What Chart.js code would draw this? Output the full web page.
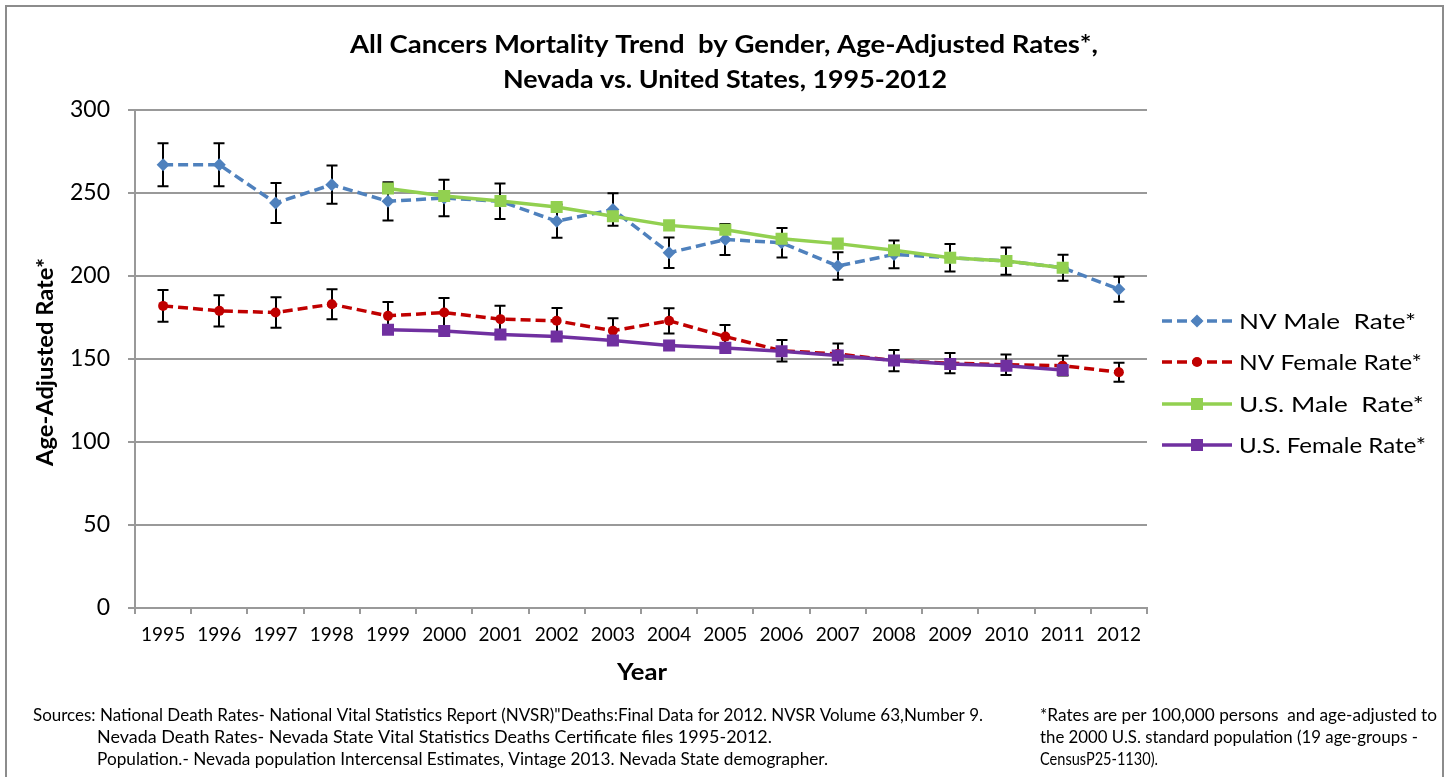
<!DOCTYPE html>
<html>
<head>
<meta charset="utf-8">
<script src="https://cdn.jsdelivr.net/npm/chart.js@4.4.1/dist/chart.umd.min.js"></script>
<style>
  html, body { margin: 0; padding: 0; background: #ffffff; }
  #wrap { width: 1449px; height: 777px; position: relative; }
</style>
</head>
<body>
<div id="wrap"><canvas id="c" width="1449" height="777"></canvas></div>
<script>
// ---- data ----
const years = ['1995','1996','1997','1998','1999','2000','2001','2002','2003','2004','2005','2006','2007','2008','2009','2010','2011','2012'];
const nvMale      = [267, 267, 244, 255, 245, 247, 245, 233, 240, 214, 222, 220, 206, 213, 211, 209, 205, 192];
const nvMaleErr   = [13, 13, 12, 11.5, 11.5, 11, 10.7, 10, 9.8, 9.2, 9.3, 8.9, 8.3, 8.4, 8.3, 8.2, 7.8, 7.5];
const nvFemale    = [182, 179, 178, 183, 176, 178, 174, 173, 167, 173, 163.5, 155, 153, 149, 147.5, 146.5, 146, 142];
const nvFemaleErr = [9.5, 9.4, 9.2, 9, 8.4, 8.7, 8.1, 7.7, 7.6, 7.6, 7, 6.5, 6.4, 6.4, 6.1, 6.2, 5.9, 5.7];
const usMale      = [null, null, null, null, 252.7, 248.2, 245.2, 241.6, 236, 230.5, 227.9, 222.5, 219.5, 215.5, 211, 209, 205, null];
const usFemale    = [null, null, null, null, 167.6, 166.8, 164.8, 163.5, 161.1, 158.1, 156.7, 154.7, 152.1, 149.1, 147, 146, 143.4, null];
const seriesLabels = ['NV Male  Rate*', 'NV Female Rate*', 'U.S. Male  Rate*', 'U.S. Female Rate*'];
const titleLines = ['All Cancers Mortality Trend  by Gender, Age-Adjusted Rates*,', 'Nevada vs. United States, 1995-2012'];
const xTitle = 'Year';
const yTitle = 'Age-Adjusted Rate*';
const yTicks = { min: 0, max: 300, step: 50 };
const notesLeft = [
  'Sources: National Death Rates- National Vital Statistics Report (NVSR)"Deaths:Final Data for 2012. NVSR Volume 63,Number 9.',
  'Nevada Death Rates- Nevada State Vital Statistics Deaths Certificate files 1995-2012.',
  'Population.- Nevada population Intercensal Estimates, Vintage 2013. Nevada State demographer.'
];
const notesRight = [
  '*Rates are per 100,000 persons  and age-adjusted to',
  'the 2000 U.S. standard population (19 age-groups -',
  'CensusP25-1130).'
];

// ---- styles ----
const FONT = 'Lato, "Open Sans", sans-serif';
const colors = ['#4F81BD', '#C00000', '#92D050', '#7030A0'];
const styles = [
  { color: colors[0], dash: [10, 5], point: 'rectRot', r: 6.5 },
  { color: colors[1], dash: [10, 5], point: 'circle', r: 5 },
  { color: colors[2], dash: [], point: 'rect', r: 8.5 },
  { color: colors[3], dash: [], point: 'rect', r: 8.5 }
];
const gridColor = '#999999';

function fitted(ctx, text, x, y, width, align) {
  const w = ctx.measureText(text).width;
  ctx.save();
  ctx.translate(x, y);
  ctx.scale(width / w, 1);
  ctx.textAlign = 'left';
  ctx.fillText(text, align === 'center' ? -w / 2 : 0, 0);
  ctx.restore();
}

function drawMarker(ctx, type, x, y, r, color) {
  ctx.save();
  ctx.fillStyle = color;
  ctx.beginPath();
  if (type === 'rectRot') {
    ctx.moveTo(x, y - r); ctx.lineTo(x + r, y); ctx.lineTo(x, y + r); ctx.lineTo(x - r, y); ctx.closePath();
  } else if (type === 'circle') {
    ctx.arc(x, y, r, 0, Math.PI * 2);
  } else {
    const s = Math.SQRT1_2 * r;
    ctx.rect(x - s, y - s, 2 * s, 2 * s);
  }
  ctx.fill();
  ctx.restore();
}

const decor = {
  id: 'decor',
  beforeDatasetsDraw(chart) {
    const ctx = chart.ctx, xs = chart.scales.x, ys = chart.scales.y;
    ctx.save();
    ctx.strokeStyle = '#000000';
    ctx.lineWidth = 2;
    const bars = [[nvMale, nvMaleErr], [nvFemale, nvFemaleErr]];
    bars.forEach(([vals, errs]) => {
      vals.forEach((v, i) => {
        if (v == null) return;
        const x = Math.round(xs.getPixelForValue(i));
        const y1 = ys.getPixelForValue(v + errs[i]);
        const y2 = ys.getPixelForValue(v - errs[i]);
        ctx.beginPath();
        ctx.moveTo(x, y1); ctx.lineTo(x, y2);
        ctx.moveTo(x - 5.5, y1); ctx.lineTo(x + 5.5, y1);
        ctx.moveTo(x - 5.5, y2); ctx.lineTo(x + 5.5, y2);
        ctx.stroke();
      });
    });
    ctx.restore();
  },
  afterDraw(chart) {
    const ctx = chart.ctx;
    ctx.save();
    // outer frame
    ctx.strokeStyle = '#8c8c8c';
    ctx.lineWidth = 2;
    ctx.strokeRect(6, 6, 1437, 790);

    ctx.fillStyle = '#000000';
    ctx.textBaseline = 'middle';
    // title
    ctx.font = 'bold 24px ' + FONT;
    fitted(ctx, titleLines[0], 350, 45, 748);
    fitted(ctx, titleLines[1], 503, 80, 444);

    // axis titles
    ctx.font = 'bold 22px ' + FONT;
    fitted(ctx, xTitle, 617, 673, 50);
    ctx.save();
    ctx.translate(46, 466);
    ctx.rotate(-Math.PI / 2);
    ctx.font = 'bold 22px ' + FONT;
    fitted(ctx, yTitle, 0, 0, 208);
    ctx.restore();

    // legend
    const lx1 = 1162, lx2 = 1232, tx = 1239;
    const ly = [321, 362, 404, 445];
    const lw = [177, 183, 185, 187];
    ctx.font = '21px ' + FONT;
    styles.forEach((s, i) => {
      ctx.save();
      ctx.strokeStyle = s.color;
      ctx.lineWidth = 3.5;
      ctx.setLineDash(s.dash);
      ctx.beginPath();
      ctx.moveTo(lx1, ly[i]); ctx.lineTo(lx2, ly[i]);
      ctx.stroke();
      ctx.restore();
      drawMarker(ctx, s.point, (lx1 + lx2) / 2, ly[i], s.r, s.color);
      ctx.fillStyle = '#000000';
      fitted(ctx, seriesLabels[i], tx, ly[i] + 1, lw[i]);
    });

    // footnotes
    ctx.font = '17px ' + FONT;
    fitted(ctx, notesLeft[0], 33, 716, 950);
    fitted(ctx, notesLeft[1], 97, 738, 675);
    fitted(ctx, notesLeft[2], 97, 760, 731);
    fitted(ctx, notesRight[0], 1040, 716, 397);
    fitted(ctx, notesRight[1], 1040, 738, 378);
    fitted(ctx, notesRight[2], 1040, 760, 118);
    ctx.restore();
  }
};

const datasets = [nvMale, nvFemale, usMale, usFemale].map((d, i) => ({
  label: seriesLabels[i],
  data: d,
  borderColor: styles[i].color,
  backgroundColor: styles[i].color,
  borderWidth: 3.5,
  borderDash: styles[i].dash,
  pointStyle: styles[i].point,
  pointRadius: styles[i].r,
  pointHoverRadius: styles[i].r,
  pointBorderWidth: 0,
  pointBackgroundColor: styles[i].color,
  tension: 0,
  spanGaps: false,
  order: 4 - i
}));

new Chart(document.getElementById('c'), {
  type: 'line',
  data: { labels: years, datasets },
  options: {
    responsive: false,
    animation: false,
    events: [],
    layout: { padding: { left: 0, right: 302, top: 110, bottom: 0 } },
    plugins: { legend: { display: false }, title: { display: false }, tooltip: { enabled: false } },
    scales: {
      x: {
        offset: true,
        grid: { offset: true, drawOnChartArea: false, drawTicks: true, tickLength: 6, color: gridColor, lineWidth: 2 },
        border: { display: true, color: gridColor, width: 2 },
        ticks: { color: '#000000', font: { family: FONT, size: 19 }, padding: 9, maxRotation: 0, autoSkip: false },
        afterFit(s) { s.height = 169; }
      },
      y: {
        min: yTicks.min, max: yTicks.max,
        grid: { color: gridColor, lineWidth: 2, drawTicks: true, tickLength: 7, tickColor: gridColor },
        border: { display: true, color: gridColor, width: 2 },
        ticks: { stepSize: yTicks.step, color: '#000000', font: { family: FONT, size: 23 }, padding: 18 },
        afterFit(s) { s.width = 135; }
      }
    }
  },
  plugins: [decor]
});
</script>
</body>
</html>
